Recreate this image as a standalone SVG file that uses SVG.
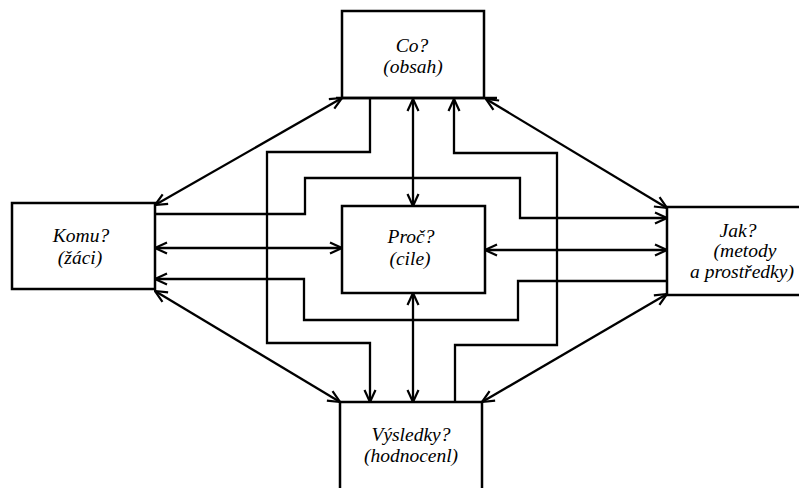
<svg xmlns="http://www.w3.org/2000/svg" width="799" height="488" viewBox="0 0 799 488">
<style>
.box{fill:#fff;stroke:#000;stroke-width:2.5}
.t{font-family:"Liberation Serif","Times New Roman",serif;font-style:italic;font-size:19.5px;text-anchor:middle;fill:#000}
.c{fill:none;stroke:#000;stroke-width:2.3}
.a2{marker-start:url(#ah);marker-end:url(#ah)}
.a1{marker-end:url(#ah)}
</style>
<defs>
<marker id="ah" viewBox="0 0 14 14" refX="13" refY="7" markerWidth="14" markerHeight="14" markerUnits="userSpaceOnUse" orient="auto-start-reverse">
<path d="M1,1.5 L13,7 L1,12.5" fill="none" stroke="#000" stroke-width="2.2"/>
</marker>
</defs>
<rect width="799" height="488" fill="#fff"/>
<g id="connectors">
<line class="c a2" x1="155" y1="205" x2="342" y2="98"/>
<line class="c a2" x1="486" y1="99" x2="667" y2="208"/>
<line class="c a2" x1="155" y1="291" x2="340" y2="402"/>
<line class="c a2" x1="667" y1="294" x2="482" y2="402"/>
<line class="c a2" x1="413" y1="99" x2="413" y2="206"/>
<line class="c a2" x1="413" y1="293" x2="413" y2="402"/>
<line class="c a2" x1="155" y1="248" x2="342" y2="248"/>
<line class="c a2" x1="485" y1="250" x2="667" y2="250"/>
<polyline class="c a1" points="370,98 370,152 267,152 267,343 370,343 370,402"/>
<polyline class="c a1" points="155,214 305,214 305,178 520,178 520,218 667,218"/>
<polyline class="c a1" points="455,402 455,345 557,345 557,153 454,153 454,99"/>
<polyline class="c a1" points="667,281 518,281 518,320 304,320 304,279 155,279"/>
</g>
<g id="co">
<rect class="box" x="342" y="11" width="142" height="87"/>
<line x1="336" y1="98" x2="497" y2="98" stroke="#000" stroke-width="2.5"/>
<text class="t" x="412" y="52">Co?</text>
<text class="t" x="413" y="73">(obsah)</text>
</g>
<g id="komu">
<rect class="box" x="12" y="203" width="143" height="86"/>
<text class="t" x="81" y="242">Komu?</text>
<text class="t" x="80" y="264">(žáci)</text>
</g>
<g id="proc">
<rect class="box" x="342" y="206" width="143" height="87"/>
<text class="t" x="411" y="243">Proč?</text>
<text class="t" x="410" y="265">(cile)</text>
</g>
<g id="jak">
<rect class="box" x="667" y="207" width="140" height="88"/>
<text class="t" x="738" y="237">Jak?</text>
<text class="t" x="745" y="257">(metody</text>
<text class="t" x="742" y="278">a prostředky)</text>
</g>
<g id="vysledky">
<rect class="box" x="340" y="402" width="142" height="95"/>
<text class="t" x="411" y="441">Výsledky?</text>
<text class="t" x="411" y="462">(hodnocenl)</text>
</g>
</svg>
